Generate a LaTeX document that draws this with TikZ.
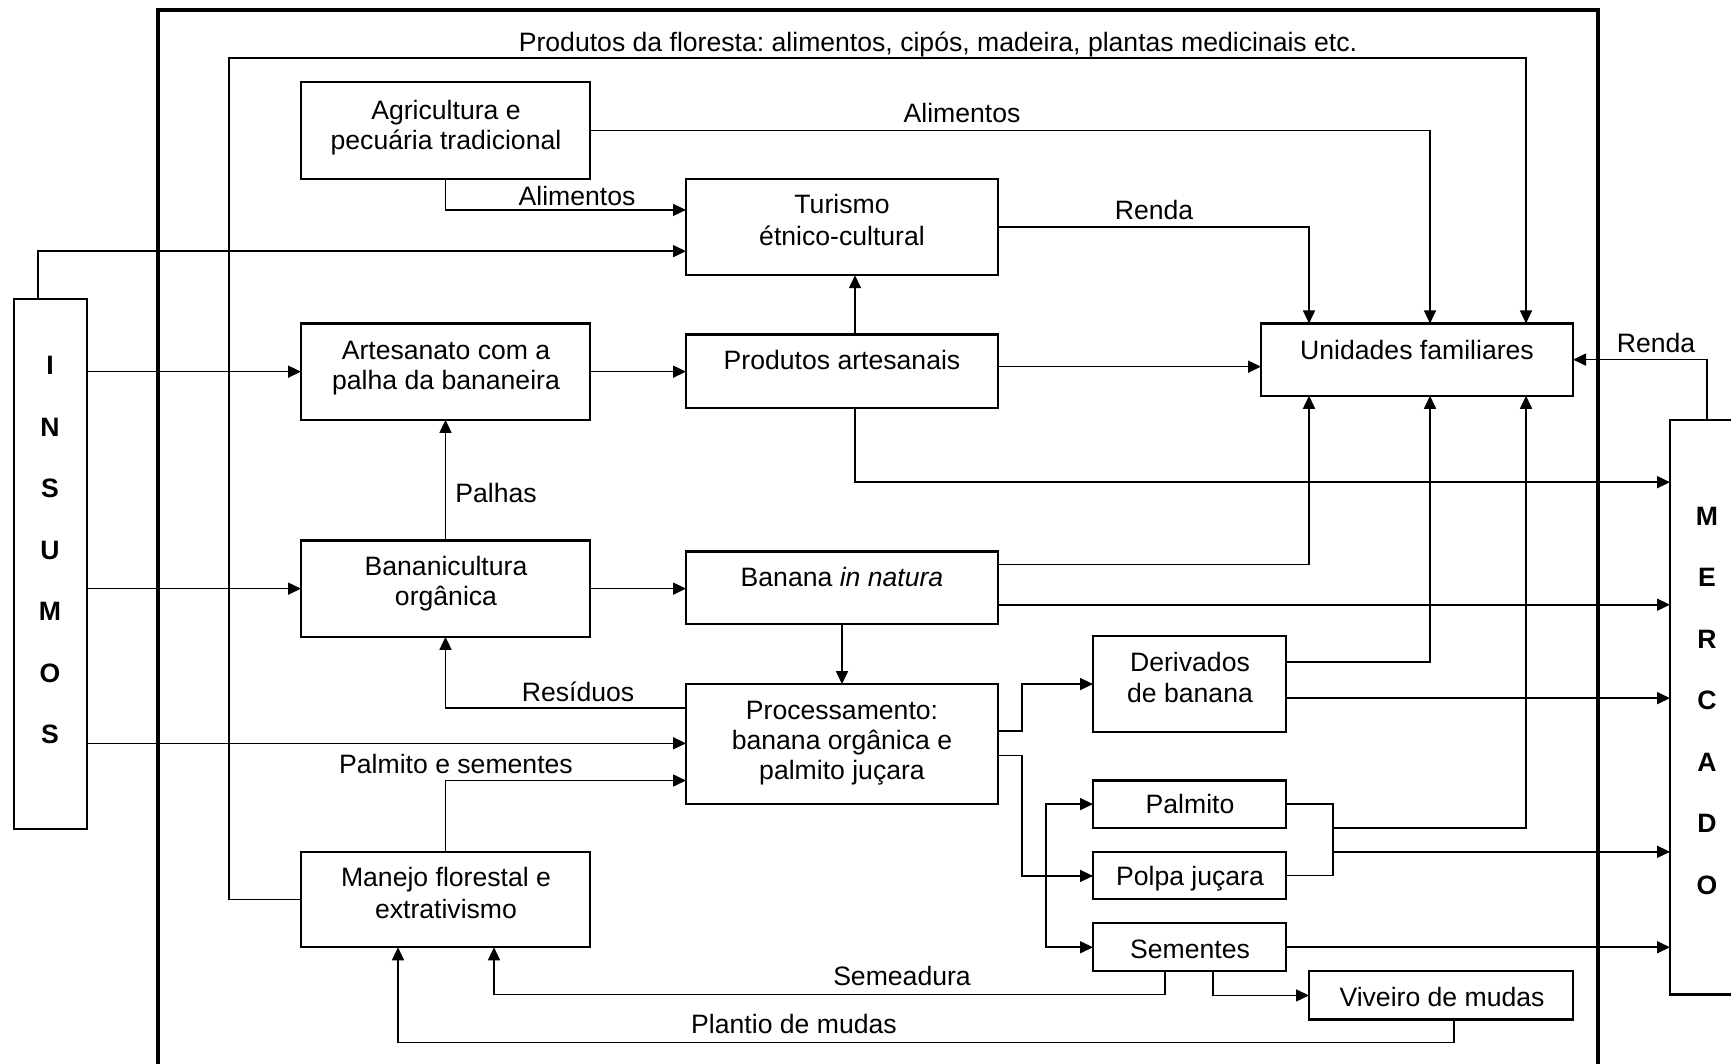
\documentclass[tikz,border=0pt]{standalone}
\usepackage{fontspec}
\setmainfont{Liberation Sans}
\usetikzlibrary{arrows.meta}
\newcommand\boxnode[5]{\node[box, minimum width={(#4)-(#2)}, minimum height={((#5)-(#3))*1.0045}] (#1) at ({((#2)+(#4))/2},{((#3)+(#5))/2}) {};}
\begin{document}
\frenchspacing
\begin{tikzpicture}[x=1pt,y=-1.0045pt,
  box/.style={draw, line width=2.2pt, inner sep=0pt, outer sep=0pt},
  lbl/.style={anchor=base, inner sep=0pt, font=\fontsize{26.6}{31}\selectfont},
  big/.style={anchor=base, inner sep=0pt, font=\fontsize{26.6}{31}\selectfont\bfseries},
  conn/.style={line width=1.6pt},
  arr/.style={conn, -{Triangle[length=13pt,width=12pt]}},
]
\useasboundingbox (0,0) rectangle (1731,1059.2);
\fill[white] (0,0) rectangle (1731,1059.2);
% frame
\draw[line width=3.2pt] (158,1080) -- (158,10) -- (1598,10) -- (1598,1080);
% boxes
\boxnode{agri}{301}{82}{590}{178}
\boxnode{tur}{686}{178}{998}{274}
\boxnode{art}{301}{322}{590}{418}
\boxnode{prodart}{686}{333}{998}{406}
\boxnode{unid}{1261}{322}{1573}{394}
\boxnode{banc}{301}{538}{590}{634}
\boxnode{bnat}{686}{549}{998}{621}
\boxnode{proc}{686}{681}{998}{800}
\boxnode{deriv}{1093}{633}{1286}{729}
\boxnode{palm}{1093}{777}{1286}{824}
\boxnode{polpa}{1093}{848}{1286}{895}
\boxnode{sem}{1093}{919}{1286}{967}
\boxnode{viv}{1309}{967}{1573}{1015}
\boxnode{manejo}{301}{848}{590}{943}
\boxnode{insumos}{14}{298}{87}{825}
\boxnode{mercado}{1670}{418}{1760}{990}
% box texts
\node[lbl] (agri1) at (446,119) {Agricultura e};
\node[lbl] (agri2) at (446,149) {pecuária tradicional};
\node[lbl] (tur1) at (842,213) {Turismo};
\node[lbl] (tur2) at (842,244) {étnico-cultural};
\node[lbl] (art1) at (446,358) {Artesanato com a};
\node[lbl] (art2) at (446,388) {palha da bananeira};
\node[lbl] (prodart1) at (842,368) {Produtos artesanais};
\node[lbl] (unid1) at (1417,358) {Unidades familiares};
\node[lbl] (banc1) at (446,573) {Bananicultura};
\node[lbl] (banc2) at (446,603) {orgânica};
\node[lbl] (bnat1) at (842,584) {Banana \textit{in natura}};
\node[lbl] (proc1) at (842,716) {Processamento:};
\node[lbl] (proc2) at (842,746) {banana orgânica e};
\node[lbl] (proc3) at (842,776) {palmito juçara};
\node[lbl] (deriv1) at (1190,668) {Derivados};
\node[lbl] (deriv2) at (1190,699) {de banana};
\node[lbl] (palm1) at (1190,810) {Palmito};
\node[lbl] (polpa1) at (1190,882) {Polpa juçara};
\node[lbl] (sem1) at (1190,954) {Sementes};
\node[lbl] (viv1) at (1442,1002) {Viveiro de mudas};
\node[lbl] (manejo1) at (446,883) {Manejo florestal e};
\node[lbl] (manejo2) at (446,914) {extrativismo};
% vertical letters
\foreach \l [count=\i from 0] in {I,N,S,U,M,O,S}
  \node[big] (ins\i) at (50,{373+61.2*\i}) {\l};
\foreach \l [count=\i from 0] in {M,E,R,C,A,D,O}
  \node[big] (mer\i) at (1707,{523+61.2*\i}) {\l};
% connector labels
\node[lbl] (tfl) at (938,51) {Produtos da floresta: alimentos, cipós, madeira, plantas medicinais etc.};
\node[lbl] (tal1) at (962,122) {Alimentos};
\node[lbl] (tal2) at (577,205) {Alimentos};
\node[lbl] (tren1) at (1154,219) {Renda};
\node[lbl] (tren2) at (1656,351) {Renda};
\node[lbl] (tpal) at (496,500) {Palhas};
\node[lbl] (tres) at (578,698) {Resíduos};
\node[lbl] (tpse) at (456,770) {Palmito e sementes};
\node[lbl] (tsem) at (902,981) {Semeadura};
\node[lbl] (tpla) at (794,1029) {Plantio de mudas};
% connectors
\draw[arr] (manejo.west) -| (229,58) -| (unid.north -| 1526,0);
\draw[arr] (agri.east) -| (unid.north -| 1430,0);
\draw[arr] (agri.south) |- (tur.west |- 0,209);
\draw[arr] (insumos.north -| 38,0) |- (tur.west |- 0,250);
\draw[arr] (tur.east) -| (unid.north -| 1309,0);
\draw[arr] (insumos.east |- 0,370) -- (art.west);
\draw[arr] (art.east) -- (prodart.west |- art.east);
\draw[arr] (prodart.north -| 855,0) -- (tur.south -| 855,0);
\draw[arr] (prodart.east |- 0,365) -- (unid.west |- 0,365);
\draw[arr] (prodart.south -| 855,0) |- (mercado.west |- 0,480);
\draw[arr] (bnat.east |- 0,562) -| (unid.south -| 1309,0);
\draw[arr] (bnat.east |- 0,602) -- (mercado.west |- 0,602);
\draw[arr] (banc.north) -- (art.south);
\draw[arr] (insumos.east |- 0,586) -- (banc.west |- 0,586);
\draw[arr] (banc.east) -- (bnat.west |- banc.east);
\draw[arr] (bnat.south) -- (proc.north);
\draw[arr] (proc.west |- 0,705) -| (banc.south);
\draw[arr] (insumos.east |- 0,740) -- (proc.west |- 0,740);
\draw[arr] (manejo.north) |- (proc.west |- 0,777);
\draw[arr] (proc.east |- 0,728) -| (1022,681) -- (deriv.west);
\draw[arr] (proc.east |- 0,752) -| (1022,872) -- (polpa.west |- 0,872);
\coordinate (jn) at (1046,872);
\draw[arr] (jn) |- (palm.west);
\draw[arr] (jn) |- (sem.west);
\draw[arr] (deriv.east |- 0,659) -| (unid.south -| 1430,0);
\draw[arr] (deriv.east |- 0,695) -- (mercado.west |- 0,695);
\draw[conn] (palm.east) -| (polpa.east -| 1333,0) -- (polpa.east);
\coordinate (brk1) at (1333,824);
\coordinate (brk2) at (1333,848);
\draw[arr] (brk1) -| (unid.south -| 1526,0);
\draw[arr] (brk2) -- (mercado.west |- brk2);
\draw[arr] (sem.east |- 0,943) -- (mercado.west |- 0,943);
\draw[arr] (sem.south -| 1165,0) |- (494,990) -- (manejo.south -| 494,0);
\draw[arr] (sem.south -| 1213,0) |- (viv.west);
\draw[arr] (viv.south -| 1454,0) |- (398,1038) -- (manejo.south -| 398,0);
\draw[arr] (mercado.north -| 1707,0) |- (unid.east |- 0,358);
\end{tikzpicture}
\end{document}
